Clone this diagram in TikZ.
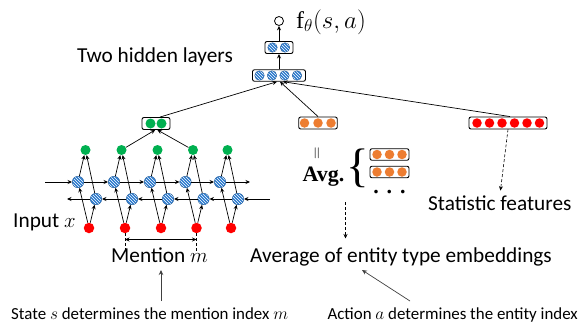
\documentclass[tikz,border=0pt]{standalone}
\usepackage{fontspec}
\setmainfont{Carlito}
\newfontfamily\serifbf{Liberation Serif}[BoldFont={* Bold}]
\usetikzlibrary{arrows.meta,patterns,calc}

\definecolor{cellblue}{RGB}{40,120,205}
\definecolor{dotgreen}{RGB}{0,176,80}
\definecolor{dotred}{RGB}{255,0,0}
\definecolor{dotorange}{RGB}{237,125,49}
\definecolor{notegray}{RGB}{64,64,64}

\tikzset{
  arr/.style={-{Stealth[length=4.5pt,width=4pt]}, line width=0.7pt},
  dasharr/.style={-{Stealth[length=4.5pt,width=4pt]}, line width=0.6pt, dash pattern=on 3pt off 2pt},
  notearr/.style={-{Stealth[length=5pt,width=4.5pt]}, line width=0.8pt, draw=notegray},
  cell/.style={circle, inner sep=0pt, minimum size=11.5pt, draw=cellblue!75!black, line width=0.4pt,
               preaction={fill=cellblue}, pattern=north west lines, pattern color=white},
  hcell/.style={cell, minimum size=9.5pt},
  dot/.style={circle, inner sep=0pt, minimum size=10pt},
  gdot/.style={dot, fill=dotgreen},
  rdot/.style={dot, fill=dotred, minimum size=10.5pt},
  odot/.style={dot, fill=dotorange, minimum size=9.5pt},
  sdot/.style={dot, fill=dotred, minimum size=9.5pt},
  vbox/.style={draw, rounded corners=2pt, line width=0.9pt, inner sep=0pt, fill=white, minimum height=12pt},
  lbl/.style={font=\fontsize{21.3}{24}\selectfont, inner sep=0pt},
  note/.style={font=\fontsize{16.9}{19}\selectfont, inner sep=0pt},
}

\begin{document}
\begin{tikzpicture}[x=1pt,y=-1pt]
\useasboundingbox (0,0) rectangle (582,324);

% ---------- bidirectional recurrent layer ----------
\foreach \i/\x in {1/89,2/125,3/161,4/196.5,5/231} {
  \node[rdot] (r\i) at (\x,228) {};
  \node[gdot] (g\i) at (\x-3.5,150) {};
  \node[cell] (f\i) at (\x-11,182) {};
  \node[cell] (b\i) at (\x+7,199) {};
  \draw[arr] (r\i) -- (f\i);
  \draw[arr] (r\i) -- (b\i);
  \draw[arr] (f\i) -- (g\i);
  \draw[arr] (b\i) -- (g\i);
}
\coordinate (fin)  at (45,182);
\coordinate (fout) at (250,182);
\coordinate (bin)  at (270,199);
\coordinate (bout) at (67,199);
\draw[arr] (fin) -- (f1);
\foreach \i/\j in {1/2,2/3,3/4,4/5} {
  \draw[arr] (f\i) -- (f\j);
  \draw[arr] (b\j) -- (b\i);
}
\draw[arr] (f5) -- (fout);
\draw[arr] (bin) -- (b5);
\draw[arr] (b1) -- (bout);

% mention span
\coordinate (ms) at (125,251);
\coordinate (me) at (196.5,251);
\draw[line width=0.6pt, dash pattern=on 3pt off 2pt] (r2) -- (ms);
\draw[line width=0.6pt, dash pattern=on 3pt off 2pt] (r4) -- (me);
\coordinate (msa) at (125,239.5);
\coordinate (mea) at (196.5,239.5);
\draw[{Stealth[length=4.5pt,width=4pt]}-{Stealth[length=4.5pt,width=4pt]}, line width=0.7pt] (msa) -- (mea);

\node[lbl, anchor=base west] (inp) at (13,227.5) {Input $x$};
\node[lbl, anchor=base west] (ment) at (111,262) {Mention $m$};

% ---------- mention representation ----------
\node[vbox, minimum width=28pt] (gb) at (156,123.5) {};
\node[gdot] (gb1) at (150.5,123.5) {};
\node[gdot] (gb2) at (161.5,123.5) {};
\draw[arr] (g2) -- (gb.263);
\draw[arr] (g4) -- (gb.282);

% ---------- entity type embedding ----------
\node[vbox, minimum width=38.5pt] (ob) at (318,123) {};
\foreach \k/\x in {1/304.5,2/318,3/331} \node[odot] (ob\k) at (\x,123) {};

\node[rotate=90, inner sep=0pt, font=\fontsize{17}{17}\selectfont] (eq) at (318,153) {$=$};
\node[anchor=base, inner sep=0pt, font=\serifbf\bfseries\fontsize{22}{24}\selectfont] (avg) at (323.5,181) {Avg.};
\node[inner sep=0pt, font=\serifbf\fontsize{47}{47}\selectfont] (brace) at (357.5,168) {\{};
\node[vbox, minimum width=39pt, minimum height=11.5pt] (ab1) at (389.5,154.5) {};
\node[vbox, minimum width=39pt, minimum height=11.5pt] (ab2) at (389.5,172) {};
\foreach \k/\x in {1/377,2/389.5,3/402} {
  \node[odot] (ab1d\k) at (\x,154.5) {};
  \node[odot] (ab2d\k) at (\x,172) {};
}
\node[anchor=base, inner sep=0pt, font=\serifbf\bfseries\fontsize{22}{24}\selectfont] (more) at (389.5,193) {.\hspace{8pt}.\hspace{8pt}.};

\coordinate (avs) at (345.5,202);
\node[lbl, anchor=base west] (avgtxt) at (250,262) {Average of entity type embeddings};
\coordinate (ave) at (345.5,238.5);
\draw[dasharr] (avs) -- (ave);

% ---------- statistic features ----------
\node[vbox, minimum width=78pt] (rb) at (508,123) {};
\foreach \k/\x in {1/477,2/489.5,3/502,4/514.5,5/527,6/539.5} \node[sdot] (rb\k) at (\x,123) {};
\node[lbl, anchor=base west] (sf) at (428,210.5) {Statistic features};
\draw[dasharr, shorten >=5pt] (rb.south) -- (sf.north);

% ---------- hidden layers and output ----------
\node[vbox, minimum width=53pt, minimum height=11.5pt] (h1) at (279,75.5) {};
\foreach \k/\x in {1/259.5,2/272,3/284.5,4/297} \node[hcell] (h1c\k) at (\x,75.5) {};
\node[vbox, minimum width=28pt] (h2) at (279,47.5) {};
\foreach \k/\x in {1/272.5,2/285} \node[hcell] (h2c\k) at (\x,47.5) {};
\node[circle, draw, line width=0.8pt, minimum size=9pt, inner sep=0pt] (out) at (279,21) {};
\node[anchor=base west, inner sep=0pt, font=\fontsize{24}{26}\selectfont] (ftxt) at (296,28) {{\serifbf f}$_\theta(s,a)$};

\draw[arr] ($(gb.north)+(4,0)$) -- ($(h1.south)+(-2,0)$);
\draw[arr] (ob.north) -- ($(h1.south)+(1,0)$);
\draw[arr] ($(rb.north)+(2,0)$) -- ($(h1.south)+(4,0)$);
\draw[arr] (h1) -- (h2);
\draw[arr] (h2) -- (out);

\node[lbl, anchor=base west] (thl) at (77,62.5) {Two hidden layers};

% ---------- notes at the bottom ----------
\node[note, anchor=base west] (snote) at (11,319) {State $s$ determines the mention index $m$};
\node[note, anchor=base east] (anote) at (578,319) {Action $a$ determines the entity index};
\coordinate (sa) at (161,301);
\coordinate (sb) at (161,270);
\draw[notearr] (sa) -- (sb);
\coordinate (aa) at (410,301);
\coordinate (ab) at (362,270);
\draw[notearr, line width=0.7pt] (aa) -- (ab);
\end{tikzpicture}
\end{document}
